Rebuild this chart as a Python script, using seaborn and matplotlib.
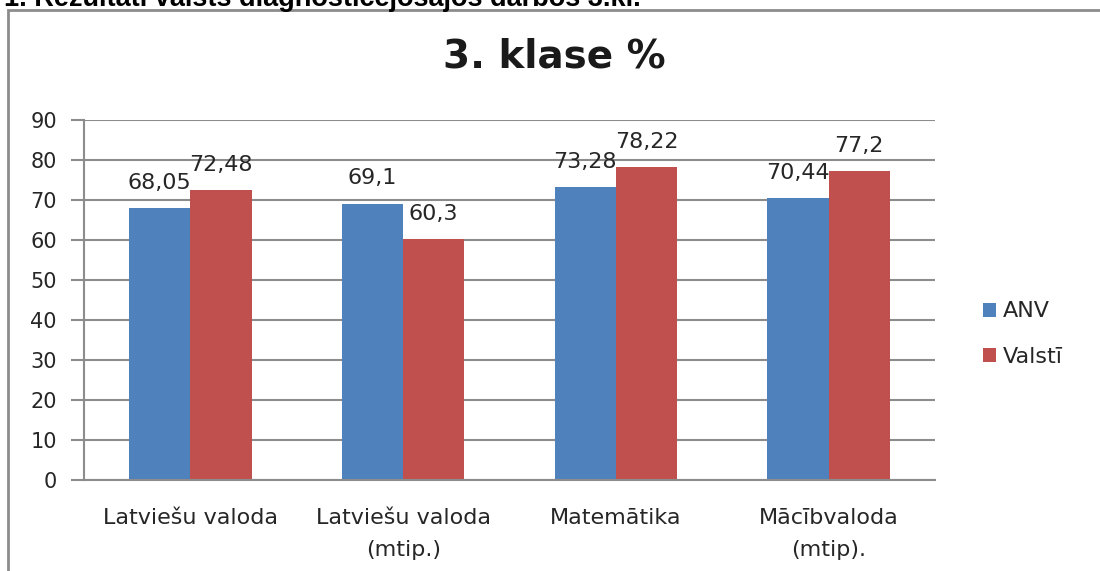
import matplotlib
matplotlib.use("Agg")
import matplotlib.pyplot as plt
from matplotlib.patches import Rectangle
import seaborn as sns
import pandas as pd

# dati
subjects = ["Latviešu valoda", "Latviešu valoda\n(mtip.)", "Matemātika", "Mācībvaloda\n(mtip)."]
anv = [68.05, 69.1, 73.28, 70.44]
valsti = [72.48, 60.3, 78.22, 77.2]
series = ["ANV", "Valstī"]
colors = ["#4F81BD", "#C0504D"]

df = pd.DataFrame({
    "subject": subjects * 2,
    "value": anv + valsti,
    "series": [series[0]] * len(subjects) + [series[1]] * len(subjects),
})

sns.set_style("white")
plt.rcParams["font.family"] = ["DejaVu Sans"]
txt = "#262626"

fig = plt.figure(figsize=(11, 5.71), dpi=100)
ax = fig.add_axes([84 / 1100, 1 - 480 / 571, (935 - 84) / 1100, 360 / 571])

sns.barplot(data=df, x="subject", y="value", hue="series", palette=colors,
            width=0.575, saturation=1, linewidth=0, ax=ax, legend=True)

for cont in ax.containers:
    labels = [f"{v:g}".replace(".", ",") for v in cont.datavalues]
    ax.bar_label(cont, labels=labels, padding=11, fontsize=16, color=txt)

ax.set_ylim(0, 90)
ax.set_yticks(range(0, 91, 10))
ax.set_xlabel("")
ax.set_ylabel("")
ax.yaxis.grid(True, color="#8c8c8c", linewidth=1.5)
ax.set_axisbelow(True)
for s in ["top", "right"]:
    ax.spines[s].set_visible(False)
for s in ["left", "bottom"]:
    ax.spines[s].set_color("#8c8c8c")
    ax.spines[s].set_linewidth(1.5)
ax.tick_params(axis="y", left=True, direction="out", length=9.5, width=1.5,
               color="#8c8c8c", labelsize=15, labelcolor=txt, pad=10)
ax.tick_params(axis="x", bottom=False, labelsize=16, labelcolor=txt, pad=17)
for t in ax.get_xticklabels():
    t.set_linespacing(1.75)

handles, lbls = ax.get_legend_handles_labels()
ax.legend(handles, lbls, loc="center left", bbox_to_anchor=(1.033, 0.405),
          frameon=False, fontsize=16, handlelength=0.6, handleheight=0.6,
          labelspacing=1.15, handletextpad=0.3, labelcolor=txt)

fig.text(554 / 1100, 1 - 57 / 571, "3. klase %", ha="center", va="center",
         fontsize=28, fontweight="bold", color="#1a1a1a")

# ārējais rāmis un apgrieztais virsraksts (augšā nogriezts kā oriģinālā)
fig.patches.append(Rectangle((8 / 1100, -0.05), 1.1, 1.05 - 10 / 571,
                             transform=fig.transFigure, fill=False,
                             edgecolor="#8c8c8c", linewidth=2))
fig.text(4 / 1100, 1 - 6 / 571, "1. Rezultāti valsts diagnosticējošajos darbos 3.kl.",
         ha="left", va="baseline", fontsize=19.5, fontweight="bold",
         family=["Liberation Sans", "DejaVu Sans"], color="black")

fig.savefig("out.png", dpi=100)
